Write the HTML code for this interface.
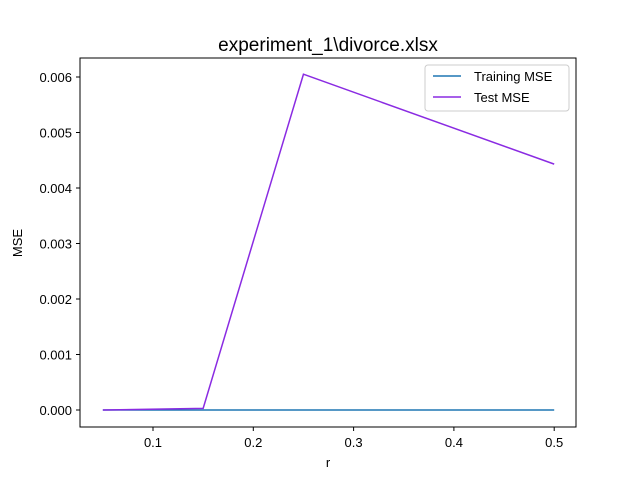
<!DOCTYPE html>
<html><head><meta charset="utf-8"><style>
body{margin:0;background:#fff;}
svg{font-family:"Liberation Sans","DejaVu Sans",sans-serif;}
</style></head><body>
<svg id="chart" width="640" height="480" viewBox="0 0 640 480">
<rect x="0" y="0" width="640" height="480" fill="#fff"/>
<text x="328" y="51" text-anchor="middle" font-size="19">experiment_1\divorce.xlsx</text>
<g id="xticks"></g><g id="yticks"></g><g id="lines"></g>
<rect x="80" y="58" width="496" height="369" fill="none" stroke="#000" stroke-width="1"/>
<text x="328" y="467" text-anchor="middle" font-size="13">r</text>
<text transform="translate(22,243) rotate(-90)" text-anchor="middle" font-size="13">MSE</text>
<g>
<rect x="425" y="65" width="144" height="46" rx="3" fill="#fff" stroke="#ccc"/>
<line x1="433" y1="76" x2="461" y2="76" stroke="#1f77b4" stroke-width="1.5"/>
<text x="474" y="81" font-size="13">Training MSE</text>
<line x1="433" y1="97" x2="461" y2="97" stroke="#8a2be2" stroke-width="1.5"/>
<text x="474" y="102" font-size="13">Test MSE</text>
</g>
</svg>
<script>
const rValues=[0.05,0.15,0.25,0.5];
const trainingMSE=[0,0,0,0];
const testMSE=[0,0.00003,0.00605,0.00443];
const xTicks=[0.1,0.2,0.3,0.4,0.5];
const yTicks=[0,0.001,0.002,0.003,0.004,0.005,0.006];
const NS="http://www.w3.org/2000/svg";
function xs(v){return 153+(v-0.1)*1003;}
function ys(v){return 410-v*55500;}
function mk(t,a,p){const e=document.createElementNS(NS,t);for(const k in a)e.setAttribute(k,a[k]);p.appendChild(e);return e;}
const xg=document.getElementById('xticks'),yg=document.getElementById('yticks'),lg=document.getElementById('lines');
xTicks.forEach(v=>{const x=xs(v);
const l=mk('line',{x1:x,y1:427,x2:x,y2:431,stroke:'#000'},xg);


const t=mk('text',{x:x,y:447,'text-anchor':'middle','font-size':'13'},xg);t.textContent=v.toFixed(1);

});
yTicks.forEach(v=>{const y=ys(v);
const l=mk('line',{x1:76,y1:y,x2:80,y2:y,stroke:'#000'},yg);


const t=mk('text',{x:72,y:y+5,'text-anchor':'end','font-size':'13'},yg);t.textContent=v.toFixed(3);

});
function line(vals,color,name){const p=mk('polyline',{points:vals.map((v,i)=>xs(rValues[i])+','+ys(v)).join(' '),fill:'none',stroke:color,'stroke-width':1.5},lg);

}
line(trainingMSE,'#1f77b4','training-mse-line');
line(testMSE,'#8a2be2','test-mse-line');
</script>
</body></html>
